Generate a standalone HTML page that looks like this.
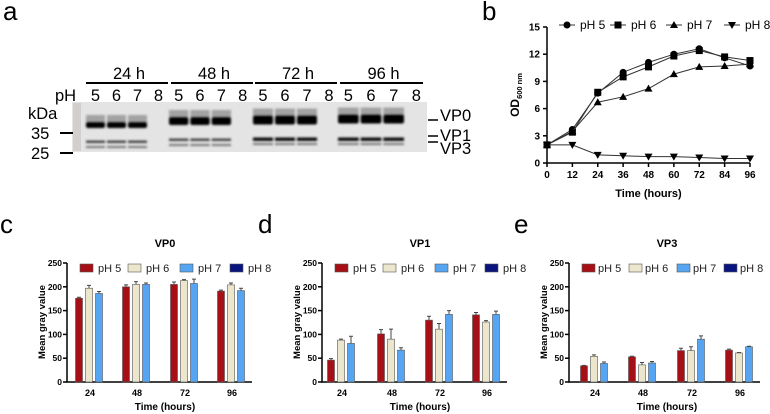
<!DOCTYPE html>
<html><head><meta charset="utf-8"><style>
html,body{margin:0;padding:0;background:#fff}
svg{display:block;font-family:"Liberation Sans",Arial,sans-serif}
</style></head><body>
<svg id="fig" width="770" height="414" viewBox="0 0 770 414" xmlns="http://www.w3.org/2000/svg">
<defs>
<filter id="blur" x="-20%" y="-50%" width="140%" height="200%"><feGaussianBlur stdDeviation="1.1"/></filter>
</defs>
<g>
<text x="3" y="20" font-size="26">a</text>
<rect x="72" y="102" width="355" height="50" fill="#e4e4e4"/>
<rect x="73" y="103" width="8" height="48" fill="#d2cfcc"/>
<g id="gel" filter="url(#blur)"></g>
<g id="gelLabels" font-size="16.5"></g>
<text x="55" y="101" font-size="16.5">pH</text>
<text x="28" y="119" font-size="16.5">kDa</text>
<text x="31" y="139" font-size="16.5">35</text>
<line x1="60" y1="133" x2="73" y2="133" stroke="#000" stroke-width="2"/>
<text x="31" y="159" font-size="16.5">25</text>
<line x1="60" y1="153" x2="73" y2="153" stroke="#000" stroke-width="2"/>
<line x1="428" y1="120" x2="438" y2="120" stroke="#000" stroke-width="1.5"/>
<line x1="428" y1="136" x2="438" y2="136" stroke="#000" stroke-width="1.5"/>
<line x1="428" y1="142" x2="438" y2="142" stroke="#000" stroke-width="1.5"/>
<text x="440" y="121" font-size="16.5">VP0</text>
<text x="440" y="141" font-size="16.5">VP1</text>
<text x="440" y="154" font-size="16.5">VP3</text>
</g>
<g id="panelB">
<text x="482" y="20" font-size="26">b</text>
</g>
<g id="panelC"></g>
<g id="panelD"></g>
<g id="panelE"></g>
</svg>
<script>
// ---- Panel b data ----
const bTimes = [0,12,24,36,48,60,72,84,96];
const bTicksY = [0,3,6,9,12,15];
const bSeriesNames = ["pH 5","pH 6","pH 7","pH 8"];
const bPH5 = [2,3.7,7.7,10,11.1,12,12.6,11.6,10.7];
const bPH6 = [2,3.4,7.8,9.5,10.6,11.8,12.4,11.7,11.3];
const bPH7 = [2,3.5,6.7,7.3,8.2,9.8,10.6,10.7,10.9];
const bPH8 = [2,2,0.9,0.8,0.7,0.7,0.6,0.5,0.5];

// ---- Bar panels data ----
const barCategories = ["24","48","72","96"];
const barTicksY = [0,50,100,150,200,250];
const barSeriesNames = ["pH 5","pH 6","pH 7","pH 8"];
const vp0PH5 = [176,200,205,191];
const vp0PH6 = [197,205,213,204];
const vp0PH7 = [186,205,207,192];
const vp0PH8 = [0,0,0,0];
const vp0Err5 = [2,4,5,2];
const vp0Err6 = [6,6,2,4];
const vp0Err7 = [4,3,9,5];
const vp1PH5 = [46,101,130,141];
const vp1PH6 = [88,90,111,126];
const vp1PH7 = [81,67,142,142];
const vp1PH8 = [0,0,0,0];
const vp1Err5 = [3,9,8,5];
const vp1Err6 = [2,21,12,3];
const vp1Err7 = [15,5,8,7];
const vp3PH5 = [34,53,66,67];
const vp3PH6 = [54,36,66,61];
const vp3PH7 = [39,40,90,74];
const vp3PH8 = [0,0,0,0];
const vp3Err5 = [1,1,5,2];
const vp3Err6 = [3,5,8,1];
const vp3Err7 = [3,3,7,1];

// ---- Gel data ----
const gelTimes = ["24 h","48 h","72 h","96 h"];
const gelPH = ["5","6","7","8"];

const NS = "http://www.w3.org/2000/svg";
function mk(parent, tag, attrs, text){
  const e = document.createElementNS(NS, tag);
  for (const k in attrs) e.setAttribute(k, attrs[k]);
  if (text !== undefined) e.textContent = text;
  parent.appendChild(e);
  return e;
}

// ---- Gel ----
(function(){
  const gel = document.getElementById('gel');
  const lab = document.getElementById('gelLabels');
  const groupStart = [85,168,252,337];
  const groupEnd = [148,232,318,405];
  const lineStart = [86,171,255,340];
  const lineEnd = [168,253,337,423];
  const vp0Y = [125,121,120,119];
  const vp1Y = [142,140,139,139];
  gelTimes.forEach((t,g)=>{
    let ln = mk(lab,'line',{x1:lineStart[g],y1:83,x2:lineEnd[g],y2:83,stroke:'#000','stroke-width':2});
    
    
    let tx = mk(lab,'text',{x:(lineStart[g]+lineEnd[g])/2+2,y:79,'text-anchor':'middle'},t);
    
    
    const lw = (groupEnd[g]-groupStart[g])/3;
    gelPH.forEach((p,i)=>{
      const cx = groupStart[g] + lw*i + lw/2;
      let pt = mk(lab,'text',{x:cx,y:101,'text-anchor':'middle'},p);
      
      
      if (i<3){
        const x = groupStart[g]+lw*i+1;
        const h0 = g===0?6:(g===1?8:9);
        let s0 = mk(gel,'rect',{x:x,y:vp0Y[g]-h0/2-7,width:lw-2,height:8,fill:'#555',opacity:0.45});
        
        
        let b0 = mk(gel,'rect',{x:x,y:vp0Y[g]-h0/2,width:lw-2,height:h0,fill:'#050505',rx:2});
        
        
        let b1 = mk(gel,'rect',{x:x,y:vp1Y[g]-1.5,width:lw-2,height:g>=2?3.5:2.5,fill:g>=2?'#111':'#444'});
        
        
        let b3 = mk(gel,'rect',{x:x,y:vp1Y[g]+4,width:lw-2,height:2,fill:'#777'});
        
        
      }
    });
  });
})();

// ---- Panel b ----
(function(){
  const g = document.getElementById('panelB');
  const x0=547, x1=750, y0=163, y1=27;
  const xs = v => x0 + (v-0)/(96-0)*(x1-x0);
  const ys = v => y0 - v/15*(y0-y1);
  let ax = mk(g,'path',{d:`M${x0},${y1} V${y0} H${x1}`,fill:'none',stroke:'#000','stroke-width':1.5});
  
  
  bTicksY.forEach(t=>{
    let l = mk(g,'line',{x1:x0-4,y1:ys(t),x2:x0,y2:ys(t),stroke:'#000','stroke-width':1.5});
    
    
    let tx = mk(g,'text',{x:x0-7,y:ys(t)+3.5,'text-anchor':'end','font-size':10,'font-weight':'bold'},t);
    
    
  });
  bTimes.forEach(t=>{
    let l = mk(g,'line',{x1:xs(t),y1:y0,x2:xs(t),y2:y0+4,stroke:'#000','stroke-width':1.5});
    
    
    let tx = mk(g,'text',{x:xs(t),y:y0+15,'text-anchor':'middle','font-size':10,'font-weight':'bold'},t);
    
    
  });
  let xt = mk(g,'text',{x:(x0+x1)/2,y:197,'text-anchor':'middle','font-size':11,'font-weight':'bold'},'Time (hours)');
  
  
  let yt = mk(g,'text',{transform:`translate(519,${(y0+y1)/2}) rotate(-90)`,'text-anchor':'middle','font-size':12,'font-weight':'bold'});
  
  
  mk(yt,'tspan',{},'OD');
  mk(yt,'tspan',{'font-size':7.5,dy:3},'600 nm');
  const series=[bPH5,bPH6,bPH7,bPH8];
  const markers=['circle','square','tri','itri'];
  function marker(parent,type,x,y){
    let m;
    if(type==='circle') m=mk(parent,'circle',{cx:x,cy:y,r:3.5,fill:'#000'});
    else if(type==='square') m=mk(parent,'rect',{x:x-3.5,y:y-3.5,width:7,height:7,fill:'#000'});
    else if(type==='tri') m=mk(parent,'path',{d:`M${x},${y-4} L${x+4},${y+3} L${x-4},${y+3}Z`,fill:'#000'});
    else m=mk(parent,'path',{d:`M${x},${y+4} L${x+4},${y-3} L${x-4},${y-3}Z`,fill:'#000'});
    return m;
  }
  series.forEach((s,si)=>{
    let p = mk(g,'polyline',{points:s.map((v,i)=>xs(bTimes[i])+','+ys(v)).join(' '),fill:'none',stroke:'#333','stroke-width':1});
    
    
    s.forEach((v,i)=>{
      let m = marker(g,markers[si],xs(bTimes[i]),ys(v));
      
      
    });
  });
  const lx=[567,618,674,732];
  bSeriesNames.forEach((n,i)=>{
    let l = mk(g,'line',{x1:lx[i]-8,y1:25,x2:lx[i]+8,y2:25,stroke:'#333','stroke-width':1});
    
    
    let m = marker(g,markers[i],lx[i],25);
    
    
    let t = mk(g,'text',{x:lx[i]+13,y:29,'font-size':12},n);
    
    
  });
})();

// ---- Bar panels ----
const colors=['#a50f15','#ece6cc','#56a5f2','#08137e'];
function barPanel(id,letter,letterX,title,axX,tickOffs,axEnd,vals,errs,legOffs,legGap){
  const g=document.getElementById(id);
  const y0=382,y1=263;
  const ys=v=>y0-v/250*(y0-y1);
  let pl=mk(g,'text',{x:letterX,y:233,'font-size':26},letter);
  
  
  let tt=mk(g,'text',{x:axX+98,y:247,'text-anchor':'middle','font-size':11,'font-weight':'bold'},title);
  
  
  let ax=mk(g,'path',{d:`M${axX},${y1} V${y0} H${axEnd}`,fill:'none',stroke:'#000','stroke-width':1.5});
  
  
  barTicksY.forEach(t=>{
    let l=mk(g,'line',{x1:axX-4,y1:ys(t),x2:axX,y2:ys(t),stroke:'#000','stroke-width':1.5});
    
    
    let tx=mk(g,'text',{x:axX-5,y:ys(t)+3,'text-anchor':'end','font-size':8.5,'font-weight':'bold'},t);
    
    
  });
  let yt=mk(g,'text',{transform:`translate(${axX-22},322) rotate(-90)`,'text-anchor':'middle','font-size':9.5,'font-weight':'bold'},'Mean gray value');
  
  
  let xt=mk(g,'text',{x:axX+98,y:410,'text-anchor':'middle','font-size':10,'font-weight':'bold'},'Time (hours)');
  
  
  barCategories.forEach((c,ci)=>{
    const cx=axX+tickOffs[ci];
    let tx=mk(g,'text',{x:cx,y:396,'text-anchor':'middle','font-size':9,'font-weight':'bold'},c);
    
    
    vals.forEach((s,si)=>{
      const bx=cx-14.5+si*10;
      const v=s[ci];
      if(v<=0) return;
      if(errs[si]){
        const e=errs[si][ci];
        let el=mk(g,'path',{d:`M${bx+3.5},${ys(v)} V${ys(v+e)} M${bx+1.5},${ys(v+e)} H${bx+5.5}`,stroke:'#444','stroke-width':1,fill:'none'});
        
        
      }
      let r=mk(g,'rect',{x:bx,y:ys(v),width:7,height:y0-ys(v),fill:colors[si],stroke:'#555','stroke-width':0.6});
      
      
    });
  });
  barSeriesNames.forEach((n,i)=>{
    let r=mk(g,'rect',{x:axX+legOffs[i],y:264,width:13,height:8,fill:colors[i],stroke:'#555','stroke-width':0.6});
    
    
    let t=mk(g,'text',{x:axX+legOffs[i]+legGap,y:272,'font-size':11,fill:'#222'},n);
    
    
  });
}
barPanel('panelC','c',0,'VP0',67,[23,70,118,165],252,[vp0PH5,vp0PH6,vp0PH7,vp0PH8],[vp0Err5,vp0Err6,vp0Err7],[13,61,113,163],18);
barPanel('panelD','d',258,'VP1',322,[20,70,118,165],507,[vp1PH5,vp1PH6,vp1PH7,vp1PH8],[vp1Err5,vp1Err6,vp1Err7],[13,61,113,163],18);
barPanel('panelE','e',514,'VP3',569,[26,74,123,171],760,[vp3PH5,vp3PH6,vp3PH7,vp3PH8],[vp3Err5,vp3Err6,vp3Err7],[13,60,108,155],16);
</script>
</body></html>
